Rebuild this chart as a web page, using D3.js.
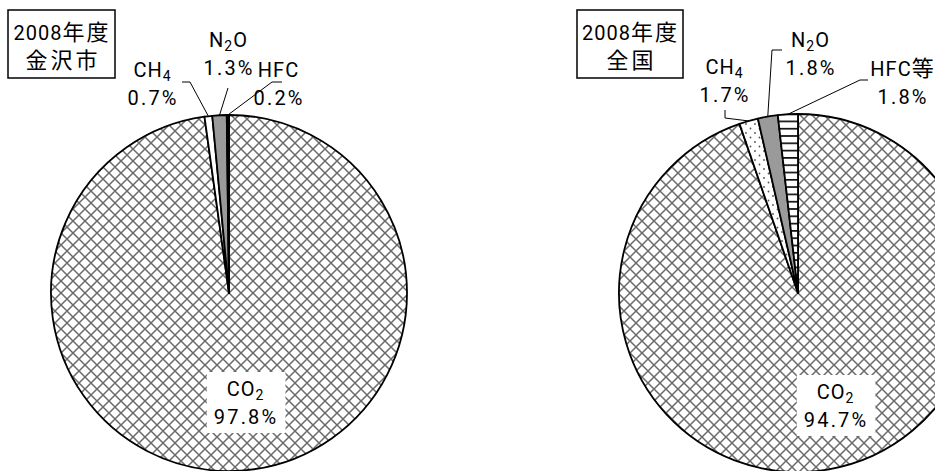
<!DOCTYPE html>
<html>
<head>
<meta charset="utf-8">
<script src="https://cdn.jsdelivr.net/npm/d3@7"></script>
<style>
  body { margin: 0; background: #fff; }
  text { font-family: "Liberation Sans Narrow", Roboto, "Noto Sans CJK JP", sans-serif; fill: #000; }
</style>
</head>
<body>
<div id="chart"></div>
<script>
// Data: composition of greenhouse gas emissions, 2008 (%)
// "_" marks the next character as a subscript
const cityGases = ["CO_2", "CH_4", "N_2O", "HFC"];
const cityValues = [97.8, 0.7, 1.3, 0.2];
const cityTitle = ["2008年度", "金沢市"];

const nationGases = ["CO_2", "CH_4", "N_2O", "HFC等"];
const nationValues = [94.7, 1.7, 1.8, 1.8];
const nationTitle = ["2008年度", "全国"];

const width = 935, height = 471;

const svg = d3.select("#chart")
    .append("svg")
    .attr("width", width)
    .attr("height", height);

// Fill patterns
const defs = svg.append("defs");

const cross = defs.append("pattern")
    .attr("id", "cross")
    .attr("patternUnits", "userSpaceOnUse")
    .attr("width", 12).attr("height", 12);
cross.append("rect").attr("width", 12).attr("height", 12).attr("fill", "#fff");
cross.append("path")
    .attr("d", "M-1,-1L13,13M13,-1L-1,13")
    .attr("stroke", "#6a6a6a").attr("stroke-width", 1.5);

const dots = defs.append("pattern")
    .attr("id", "dots")
    .attr("patternUnits", "userSpaceOnUse")
    .attr("width", 9).attr("height", 9);
dots.append("rect").attr("width", 9).attr("height", 9).attr("fill", "#fff");
dots.append("circle").attr("cx", 2).attr("cy", 2).attr("r", 0.9).attr("fill", "#555");
dots.append("circle").attr("cx", 6.5).attr("cy", 6.5).attr("r", 0.9).attr("fill", "#555");

const stripes = defs.append("pattern")
    .attr("id", "stripes")
    .attr("patternUnits", "userSpaceOnUse")
    .attr("width", 8).attr("height", 7.3);
stripes.append("rect").attr("width", 8).attr("height", 7.3).attr("fill", "#fff");
stripes.append("line")
    .attr("x1", 0).attr("x2", 8).attr("y1", 3.6).attr("y2", 3.6)
    .attr("stroke", "#111").attr("stroke-width", 1.7);

const isCJK = c => c.charCodeAt(0) > 0x2e80;

// One text element; runs of subscript / CJK characters become tspans
function drawLabel(g, str, cx, y, size, spacing, cjkSpacing) {
    const runs = [];
    for (let i = 0; i < str.length; i++) {
        let c = str[i], type = "n";
        if (c === "_") { c = str[++i]; type = "sub"; }
        else if (isCJK(c)) type = "cjk";
        const last = runs[runs.length - 1];
        if (last && last.type === type) last.s += c;
        else runs.push({type, s: c});
    }
    const t = g.append("text")
        .attr("x", cx + spacing / 2)
        .attr("y", y)
        .attr("text-anchor", "middle")
        .attr("font-size", size)
        .attr("letter-spacing", spacing);
    let shifted = false;
    runs.forEach(r => {
        const ts = t.append("tspan").text(r.s);
        if (r.type === "sub") {
            ts.attr("font-size", size * 0.7).attr("dy", 4);
            shifted = true;
        } else {
            if (shifted) { ts.attr("dy", -4); shifted = false; }
            if (r.type === "cjk") {
                ts.attr("font-size", size * 1.1);
                if (cjkSpacing != null) ts.attr("letter-spacing", cjkSpacing);
            }
        }
    });
    return t;
}

function drawPie(cfg) {
    const g = svg.append("g");

    const pie = d3.pie().sort(null).value(d => d)(cfg.values);
    const arc = d3.arc().innerRadius(0).outerRadius(cfg.r);

    g.append("g")
        .attr("transform", `translate(${cfg.cx},${cfg.cy})`)
        .selectAll("path")
        .data(pie)
        .join("path")
        .attr("d", arc)
        .attr("fill", (d, i) => cfg.fills[i])
        .attr("stroke", "#000")
        .attr("stroke-width", 1.8)
        .attr("stroke-linejoin", "round");

    // title box
    g.append("rect")
        .attr("x", cfg.box[0]).attr("y", cfg.box[1])
        .attr("width", cfg.box[2]).attr("height", cfg.box[3])
        .attr("fill", "#fff").attr("stroke", "#000").attr("stroke-width", 1.5);
    const bx = cfg.box[0] + cfg.box[2] / 2;
    drawLabel(g, cfg.title[0], bx, cfg.box[1] + 30, 20, 1, 2);
    drawLabel(g, cfg.title[1], bx, cfg.box[1] + 58, 20, 3);

    const fmt = v => d3.format(".1f")(v) + "%";

    pie.forEach((d, i) => {
        const lay = cfg.labels[i];
        if (lay.leader) {
            const a = (d.startAngle + d.endAngle) / 2;
            const end = [cfg.cx + cfg.r * Math.sin(a), cfg.cy - cfg.r * Math.cos(a)];
            g.append("path")
                .attr("d", d3.line()([...lay.leader, end]))
                .attr("fill", "none")
                .attr("stroke", "#000")
                .attr("stroke-width", 1);
        }
        const lg = g.append("g");
        drawLabel(lg, cfg.gases[i], lay.x, lay.y, 20, 1);
        drawLabel(lg, fmt(cfg.values[i]), lay.x, lay.y + 28, 20, 2.2);
        if (lay.boxed) {
            const bb = lg.node().getBBox();
            lg.insert("rect", ":first-child")
                .attr("x", bb.x - 7).attr("y", bb.y - 5)
                .attr("width", bb.width + 14).attr("height", bb.height + 9)
                .attr("fill", "#fff");
        }
    });
}

drawPie({
    cx: 229, cy: 293, r: 178,
    values: cityValues, gases: cityGases, title: cityTitle,
    fills: ["url(#cross)", "#fff", "#9a9a9a", "#000"],
    box: [8, 10, 107, 68],
    labels: [
        {x: 245, y: 396, boxed: true},
        {x: 152, y: 77, leader: [[182, 82], [190, 82]]},
        {x: 228, y: 47, leader: [[228, 88]]},
        {x: 278, y: 77, leader: [[282, 82], [272, 82]]}
    ]
});

drawPie({
    cx: 798, cy: 293, r: 179,
    values: nationValues, gases: nationGases, title: nationTitle,
    fills: ["url(#cross)", "url(#dots)", "#9a9a9a", "url(#stripes)"],
    box: [577, 10, 106, 68],
    labels: [
        {x: 835, y: 399, boxed: true},
        {x: 724, y: 74, leader: [[725, 110], [725, 118]]},
        {x: 810, y: 47, leader: [[782, 50], [772, 50]]},
        {x: 902, y: 76, leader: [[868, 80], [860, 80]]}
    ]
});
</script>
</body>
</html>
